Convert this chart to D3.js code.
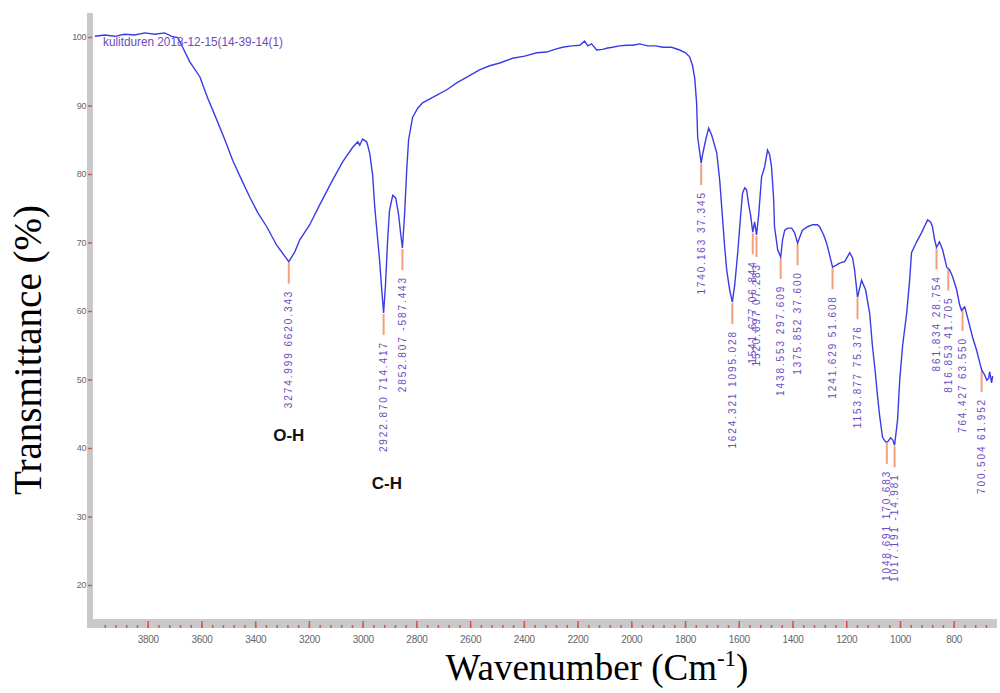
<!DOCTYPE html>
<html>
<head>
<meta charset="utf-8">
<script src="https://cdn.jsdelivr.net/npm/d3@7/dist/d3.min.js"></script>
<style>
  body { margin: 0; background: #fff; }
  svg { display: block; }
</style>
</head>
<body>
<div id="chart"></div>
<script>
var WIDTH = 1000, HEIGHT = 693;

// spectrum: wavenumber (cm-1) and transmittance (%)
var wavenumber = [3997, 3960, 3923, 3886, 3848, 3811, 3774, 3737, 3711, 3688, 3670, 3644, 3606, 3577, 3543, 3513,
    3484, 3450, 3420, 3391, 3357, 3320, 3290, 3275, 3253, 3234, 3197, 3160, 3112, 3074, 3037, 3018, 3011, 3000, 2985,
    2974, 2963, 2955, 2944, 2937, 2929, 2922, 2915, 2907, 2900, 2888, 2877, 2866, 2858, 2852, 2844, 2836, 2829, 2814,
    2795, 2777, 2724, 2687, 2650, 2609, 2565, 2527, 2490, 2442, 2397, 2352, 2315, 2285, 2256, 2222, 2192, 2174, 2162,
    2148, 2129, 2107, 2088, 2070, 2044, 2017, 1995, 1969, 1939, 1909, 1883, 1850, 1820, 1798, 1783, 1772, 1764, 1757,
    1753, 1740, 1735, 1723, 1712, 1701, 1682, 1671, 1660, 1653, 1645, 1634, 1624, 1615, 1604, 1593, 1586, 1578, 1571,
    1563, 1556, 1548, 1541, 1534, 1526, 1515, 1504, 1496, 1493, 1485, 1478, 1470, 1467, 1455, 1444, 1437, 1429, 1418,
    1403, 1392, 1381, 1374, 1363, 1344, 1325, 1307, 1299, 1284, 1273, 1262, 1251, 1237, 1225, 1206, 1187, 1176, 1169,
    1158, 1143, 1128, 1113, 1102, 1091, 1083, 1076, 1065, 1054, 1046, 1035, 1027, 1020, 1009, 1001, 990, 975, 964,
    957, 938, 920, 908, 897, 886, 879, 871, 864, 853, 841, 826, 815, 804, 789, 778, 771, 759, 748, 730, 715, 704, 696,
    685, 677, 670, 666, 659, 655];
var transmittance = [100.1, 100.3, 100.1, 100.4, 100.3, 100.6, 100.4, 100.6, 100.1, 99.9, 98.5, 96.4, 94.2, 91.1, 87.9, 85.0,
    82.0, 79.1, 76.6, 74.4, 72.3, 69.6, 68.0, 67.2, 68.6, 70.4, 72.6, 75.5, 79.1, 81.8, 83.9, 84.7, 84.2, 85.1, 84.7,
    83.1, 79.9, 75.2, 70.4, 67.4, 63.1, 59.7, 63.8, 70.4, 74.7, 76.9, 76.5, 74.0, 71.1, 69.2, 74.0, 80.6, 85.0, 88.3,
    89.6, 90.4, 91.5, 92.3, 93.3, 94.2, 95.2, 95.8, 96.2, 96.9, 97.2, 97.7, 97.8, 98.2, 98.5, 98.7, 98.8, 99.4, 98.7,
    99.0, 98.1, 98.2, 98.4, 98.5, 98.7, 98.8, 98.8, 99.0, 98.7, 98.7, 98.5, 98.5, 98.1, 97.7, 97.1, 95.8, 94.0, 90.4,
    85.4, 81.6, 82.8, 85.0, 86.7, 85.7, 83.1, 79.1, 73.3, 69.6, 66.0, 63.1, 61.3, 63.8, 68.5, 74.0, 77.2, 78.0, 77.7,
    75.5, 74.0, 71.5, 73.0, 71.1, 74.0, 79.6, 81.0, 82.8, 83.5, 82.8, 81.0, 76.2, 72.3, 68.9, 67.9, 70.4, 71.8, 72.1,
    72.1, 71.4, 69.9, 70.7, 71.8, 72.3, 72.6, 72.6, 72.3, 71.1, 69.9, 68.2, 66.4, 66.7, 67.0, 67.2, 68.5, 67.7, 66.0,
    62.0, 64.5, 63.1, 59.7, 54.7, 50.7, 47.4, 44.8, 41.6, 40.9, 40.9, 41.5, 41.2, 40.4, 44.1, 49.9, 55.0, 59.7, 64.5,
    68.5, 70.1, 71.4, 72.4, 73.3, 73.0, 72.3, 70.4, 69.3, 70.1, 68.9, 66.4, 66.0, 65.0, 63.1, 60.9, 60.1, 60.6, 59.0,
    56.2, 54.3, 52.6, 51.4, 50.7, 49.9, 50.2, 51.1, 49.5, 50.5];

// picked peaks (position, transmittance at the dip, printed label)
var peakWn = [3275, 2922, 2852, 1740, 1624, 1548, 1534, 1444, 1381, 1251, 1158, 1049, 1020, 864, 820, 767, 696];
var peakT = [67.2, 59.7, 69.2, 81.6, 61.3, 71.5, 71.1, 67.9, 69.9, 66.4, 62.0, 40.9, 40.4, 69.3, 66.2, 60.3, 51.4];
var peakText = ["3274.999  6620.343", "2922.870  714.417", "2852.807  -587.443", "1740.163  37.345",
    "1624.321  1095.028", "1541.677  06.844", "1520.697  07.283", "1438.553  297.609", "1375.852  37.600",
    "1241.629  51.608", "1153.877  75.376", "1048.691  170.683", "1017.191  -14.981", "861.834  28.754",
    "816.853  41.705", "764.427  63.550", "700.504  61.952"];

// band assignments
var bandText = ["O-H", "C-H"];
var bandWn = [3275, 2910];
var bandT = [41.0, 34.0];

var xTicks = [3800, 3600, 3400, 3200, 3000, 2800, 2600, 2400, 2200, 2000, 1800, 1600, 1400, 1200, 1000, 800];
var yTicks = [100, 90, 80, 70, 60, 50, 40, 30, 20];

var svg = d3.select('#chart')
    .append('svg')
    .attr('width', WIDTH)
    .attr('height', HEIGHT);

var x = d3.scaleLinear().domain([4000, 650]).range([94, 994]);
var y = d3.scaleLinear().domain([20, 100]).range([585, 37]);

var RED = '#e0504a';
var LABEL = '#6a4cc0';

//gray frame (left and bottom bars)
svg.append('rect')
    .attr('x', 87).attr('y', 13)
    .attr('width', 6).attr('height', 615)
    .attr('fill', '#c9c9c9');
svg.append('rect')
    .attr('x', 87).attr('y', 619)
    .attr('width', 910).attr('height', 9)
    .attr('fill', '#c9c9c9');

//minor ticks on bottom axis
var minorAxis = svg.append('g')
    .attr('transform', 'translate(0,625)')
    .call(d3.axisBottom(x).tickValues(d3.range(3960, 660, -40)).tickSize(3).tickFormat(''));
minorAxis.select('.domain').remove();
minorAxis.selectAll('line').attr('stroke', RED).attr('stroke-width', 1.5);

//major ticks + labels
var xAxis = svg.append('g')
    .attr('transform', 'translate(0,621)')
    .call(d3.axisBottom(x).tickValues(xTicks).tickSize(7).tickPadding(8).tickFormat(d3.format('d')));
xAxis.select('.domain').remove();
xAxis.selectAll('line').attr('stroke', RED).attr('stroke-width', 1.5);
xAxis.selectAll('text')
    .attr('fill', '#666')
    .style('font-family', 'Liberation Sans, Arial, sans-serif')
    .style('font-size', '10px')
    .attr('letter-spacing', '-0.3');

var yAxis = svg.append('g')
    .attr('transform', 'translate(92,0)')
    .call(d3.axisLeft(y).tickValues(yTicks).tickSize(4).tickPadding(2));
yAxis.select('.domain').remove();
yAxis.selectAll('line').attr('stroke', RED).attr('stroke-width', 1.5);
yAxis.selectAll('text')
    .attr('fill', '#666')
    .style('font-family', 'Liberation Sans, Arial, sans-serif')
    .style('font-size', '9px')
    .attr('letter-spacing', '-0.4');

//spectrum
var spectrum = wavenumber.map(function(w, i) { return [w, transmittance[i]]; });
var line = d3.line()
    .x(function(d) { return x(d[0]); })
    .y(function(d) { return y(d[1]); });

//peak markers
var peaks = peakWn.map(function(w, i) { return {w: w, t: peakT[i], label: peakText[i]}; });
var peakGroup = svg.append('g').attr('id', 'peaks');
peakGroup.selectAll('line')
    .data(peaks)
    .enter()
    .append('line')
    .attr('x1', function(d) { return x(d.w); })
    .attr('x2', function(d) { return x(d.w); })
    .attr('y1', function(d) { return y(d.t) + 1; })
    .attr('y2', function(d) { return y(d.t) + 22; })
    .attr('stroke', '#f2a07c')
    .attr('stroke-width', 2);
peakGroup.selectAll('text')
    .data(peaks)
    .enter()
    .append('text')
    .attr('transform', function(d) {
        return 'translate(' + (x(d.w) + 3.5) + ',' + (y(d.t) + 28) + ') rotate(-90)';
    })
    .attr('text-anchor', 'end')
    .attr('fill', LABEL)
    .attr('letter-spacing', '1.9')
    .style('font-family', 'Liberation Sans, Arial, sans-serif')
    .style('font-size', '10px')
    .text(function(d) { return d.label; });

svg.append('path')
    .datum(spectrum)
    .attr('d', line)
    .attr('fill', 'none')
    .attr('stroke', '#3b3be6')
    .attr('stroke-width', 1.4);

//sample name
svg.append('text')
    .attr('x', 103).attr('y', 46)
    .attr('fill', LABEL)
    .attr('textLength', 180)
    .attr('lengthAdjust', 'spacingAndGlyphs')
    .style('font-family', 'Liberation Sans, Arial, sans-serif')
    .style('font-size', '13px')
    .text('kulitduren 2018-12-15(14-39-14(1)');

//band labels
svg.append('g').selectAll('text')
    .data(bandText)
    .enter()
    .append('text')
    .attr('x', function(d, i) { return x(bandWn[i]); })
    .attr('y', function(d, i) { return y(bandT[i]); })
    .attr('text-anchor', 'middle')
    .attr('fill', '#111')
    .style('font-family', 'Liberation Sans, Arial, sans-serif')
    .style('font-weight', 'bold')
    .style('font-size', '17px')
    .text(function(d) { return d; });

//axis titles
svg.append('text')
    .attr('transform', 'translate(41,350) rotate(-90)')
    .attr('text-anchor', 'middle')
    .attr('fill', '#000')
    .style('font-family', 'Liberation Serif, Times New Roman, serif')
    .style('font-size', '39px')
    .text('Transmittance (%)');

var xTitle = svg.append('text')
    .attr('x', 597).attr('y', 680)
    .attr('text-anchor', 'middle')
    .attr('fill', '#000')
    .style('font-family', 'Liberation Serif, Times New Roman, serif')
    .style('font-size', '37px');
xTitle.append('tspan').text('Wavenumber (Cm');
xTitle.append('tspan').attr('dy', -14).style('font-size', '23px').text('-1');
xTitle.append('tspan').attr('dy', 14).text(')');
</script>
</body>
</html>
